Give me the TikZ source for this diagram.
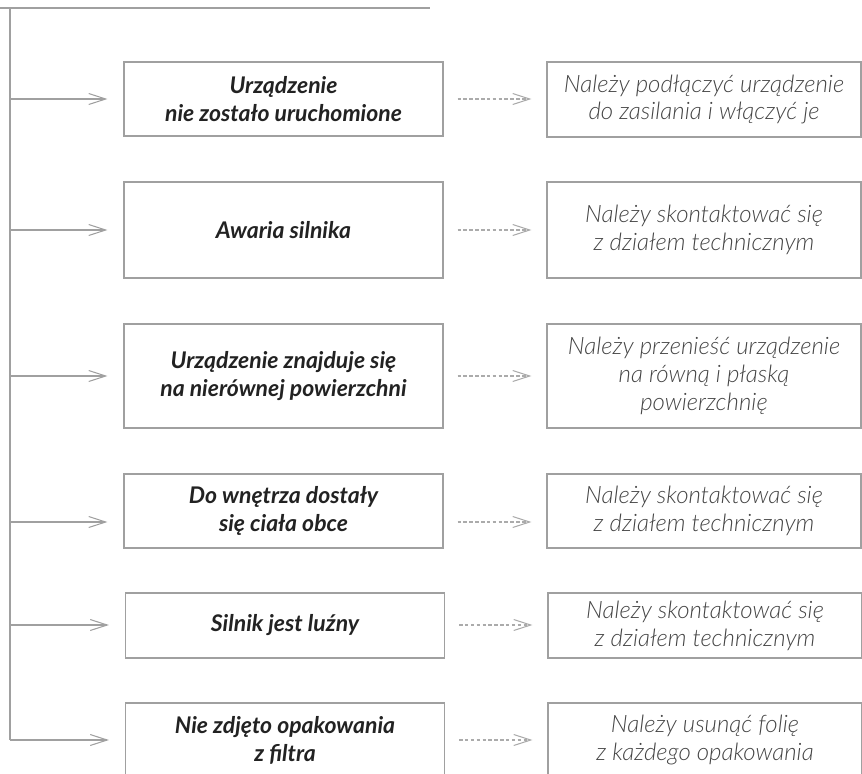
\documentclass[tikz,border=0pt]{standalone}
\usepackage{fontspec}
\setmainfont{Lato}
\newfontfamily\lightfont{Lato Light}
\usetikzlibrary{arrows.meta}

\definecolor{linegray}{HTML}{A0A0A0}
\definecolor{dashgray}{HTML}{ABABAB}
\definecolor{causetext}{HTML}{222222}
\definecolor{fixtext}{HTML}{444444}
\newcommand{\pxu}{0.03cm}

\begin{document}
\begin{tikzpicture}[x=\pxu, y=-\pxu,
    cause/.style={draw=linegray, line width=1pt, align=center, text=causetext,
        font=\fontsize{19.6}{24}\selectfont\bfseries\itshape, minimum width=319*\pxu},
    fix/.style={draw=linegray, line width=1pt, align=center, text=fixtext,
        font=\fontsize{20.5}{23.8}\selectfont\lightfont\itshape, minimum width=314*\pxu},
    tip/.style={-{Straight Barb[length=17*\pxu, width=11*\pxu]}}]
    \useasboundingbox (0, 0) rectangle (862, 773); % bounding box

    % trunk
    \draw [linegray, line width=0.9pt] (0, 8) -- (430, 8);
    \coordinate (t1) at (10,  99);
    \coordinate (t2) at (10, 230);
    \coordinate (t3) at (10, 376);
    \coordinate (t4) at (10, 522);
    \coordinate (t5) at (10, 625);
    \coordinate (t6) at (10, 740);
    \draw [linegray, line width=0.9pt] (10, 8) -- (t6);

    % causes
    \node at (283.5,  99.0) [cause, minimum height= 74*\pxu] (c1) {Urządzenie\\nie zostało uruchomione};
    \node at (283.5, 230.0) [cause, minimum height= 96*\pxu] (c2) {Awaria silnika};
    \node at (283.5, 376.0) [cause, minimum height=104*\pxu] (c3) {Urządzenie znajduje się\\na nierównej powierzchni};
    \node at (283.5, 511.0) [cause, minimum height= 74*\pxu] (c4) {Do wnętrza dostały\\się ciała obce};
    \node at (285.0, 625.5) [cause, minimum height= 65*\pxu] (c5) {Silnik jest luźny};
    \node at (285.0, 740.0) [cause, minimum height= 74*\pxu] (c6) {Nie zdjęto opakowania\\z filtra};

    % fixes
    \node at (704.0,  99.5) [fix, minimum height= 75*\pxu] (f1) {Należy podłączyć urządzenie\\do zasilania i włączyć je};
    \node at (704.0, 230.0) [fix, minimum height= 96*\pxu] (f2) {Należy skontaktować się\\z działem technicznym};
    \node at (704.0, 376.0) [fix, minimum height=104*\pxu] (f3) {Należy przenieść urządzenie\\na równą i płaską\\powierzchnię};
    \node at (704.0, 511.0) [fix, minimum height= 74*\pxu] (f4) {Należy skontaktować się\\z działem technicznym};
    \node at (705.0, 625.5) [fix, minimum height= 65*\pxu] (f5) {Należy skontaktować się\\z działem technicznym};
    \node at (705.0, 740.0) [fix, minimum height= 74*\pxu] (f6) {Należy usunąć folię\\z każdego opakowania};

    % branches
    \begin{scope}[every path/.style={linegray, line width=0.9pt, tip, shorten >=16*\pxu}]
        \draw (t1) -- (t1 -| c1.west);
        \draw (t2) -- (t2 -| c2.west);
        \draw (t3) -- (t3 -| c3.west);
        \draw (t4) -- (t4 -| c4.west);
        \draw (t5) -- (t5 -| c5.west);
        \draw (t6) -- (t6 -| c6.west);
    \end{scope}

    % remedies
    \begin{scope}[every path/.style={dashgray, line width=0.9pt, tip, dash pattern=on 3pt off 2pt,
            shorten <=14*\pxu, shorten >=15*\pxu}]
        \draw (c1.east |- t1) -- (f1.west |- t1);
        \draw (c2.east |- t2) -- (f2.west |- t2);
        \draw (c3.east |- t3) -- (f3.west |- t3);
        \draw (c4.east |- t4) -- (f4.west |- t4);
        \draw (c5.east |- t5) -- (f5.west |- t5);
        \draw (c6.east |- t6) -- (f6.west |- t6);
    \end{scope}
\end{tikzpicture}
\end{document}
